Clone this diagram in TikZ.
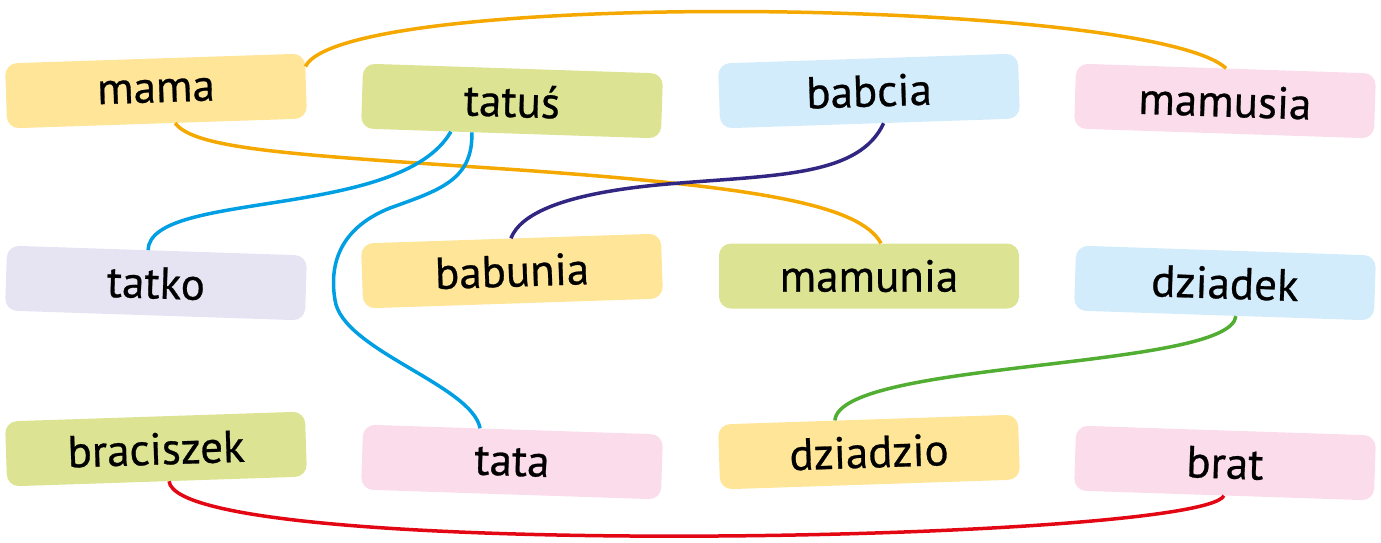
\documentclass[tikz,border=0pt]{standalone}
\usepackage{fontspec}
\setmainfont[FakeBold=0.6]{PT Sans}
\usetikzlibrary{calc}
\definecolor{cyel}{HTML}{FFE597}
\definecolor{cgrn}{HTML}{DCE392}
\definecolor{cblu}{HTML}{D3ECFB}
\definecolor{cpnk}{HTML}{FBDCEB}
\definecolor{clav}{HTML}{E6E3F3}
\definecolor{lorange}{HTML}{F5A800}
\definecolor{lblue}{HTML}{009FE3}
\definecolor{lpurple}{HTML}{312783}
\definecolor{lgreen}{HTML}{52AE32}
\definecolor{lred}{HTML}{E30613}
\tikzset{
  wordbox/.style={rounded corners=12pt, minimum width=300pt, minimum height=65pt,
    inner sep=0pt, font=\fontsize{45}{52}\selectfont, text=black},
  link/.style={line width=3.5pt}
}
\begin{document}
\begin{tikzpicture}[x=1pt,y=-1pt]
\useasboundingbox (0,0) rectangle (1381,542);
% nodes
\node[wordbox, fill=cyel, rotate=1.9]  (mama)      at (156,91)  {mama};
\node[wordbox, fill=cgrn, rotate=-1.9] (tatus)     at (512,101) {tatuś};
\node[wordbox, fill=cblu, rotate=1.9]  (babcia)    at (869,91)  {babcia};
\node[wordbox, fill=cpnk, rotate=-1.9] (mamusia)   at (1225,101) {mamusia};
\node[wordbox, fill=clav, rotate=-1.9] (tatko)     at (156,283) {tatko};
\node[wordbox, fill=cyel, rotate=1.9]  (babunia)   at (512,271) {babunia};
\node[wordbox, fill=cgrn]              (mamunia)   at (869,276) {mamunia};
\node[wordbox, fill=cblu, rotate=-1.9] (dziadek)   at (1225,283) {dziadek};
\node[wordbox, fill=cgrn, rotate=1.9]  (braciszek) at (156,449) {braciszek};
\node[wordbox, fill=cpnk, rotate=-1.9] (tata)      at (512,462) {tata};
\node[wordbox, fill=cyel, rotate=1.9]  (dziadzio)  at (869,452) {dziadzio};
\node[wordbox, fill=cpnk, rotate=-1.9] (brat)      at (1225,463) {brat};
% connector end points on the boxes
\coordinate (mamaR)  at ($(mama.south east)!0.8!(mama.north east)$);
\coordinate (mamaB)  at ($(mama.south west)!0.56!(mama.south east)$);
\coordinate (mamunT) at ($(mamunia.north west)!0.54!(mamunia.north east)$);
\coordinate (tatA)   at ($(tatus.south west)!0.3!(tatus.south east)$);
\coordinate (tatB)   at ($(tatus.south west)!0.37!(tatus.south east)$);
\coordinate (tatkoT) at ($(tatko.north west)!0.47!(tatko.north east)$);
\coordinate (tataT)  at ($(tata.north west)!0.39!(tata.north east)$);
\coordinate (babcB)  at ($(babcia.south west)!0.545!(babcia.south east)$);
\coordinate (dzkB)   at ($(dziadek.south west)!0.54!(dziadek.south east)$);
\coordinate (dzzT)   at ($(dziadzio.north west)!0.39!(dziadzio.north east)$);
\coordinate (brcB)   at ($(braciszek.south west)!0.54!(braciszek.south east)$);
% connectors
\draw[link, lorange] (mamaR) .. controls (345,-12) and (1150,-2) .. (mamusia.north);
\draw[link, lorange] (mamaB) .. controls (195,150) and (300,155) .. (520,170)
   .. controls (760,187) and (860,205) .. (mamunT);
\draw[link, lblue] (tatA) .. controls (400,220) and (150,190) .. (tatkoT);
\draw[link, lblue] (tatB) .. controls (473,180) and (440,190) .. (390,208)
   .. controls (335,230) and (330,270) .. (335,300)
   .. controls (342,350) and (472,385) .. (tataT);
\draw[link, lpurple] (babcB) .. controls (860,175) and (780,175) .. (680,183)
   .. controls (560,192) and (520,215) .. (babunia.north);
\draw[link, lgreen] (dzkB) .. controls (1230,370) and (840,360) .. (dzzT);
\draw[link, lred] (brcB) .. controls (178,562) and (1200,542) .. (brat.south);
\end{tikzpicture}
\end{document}
